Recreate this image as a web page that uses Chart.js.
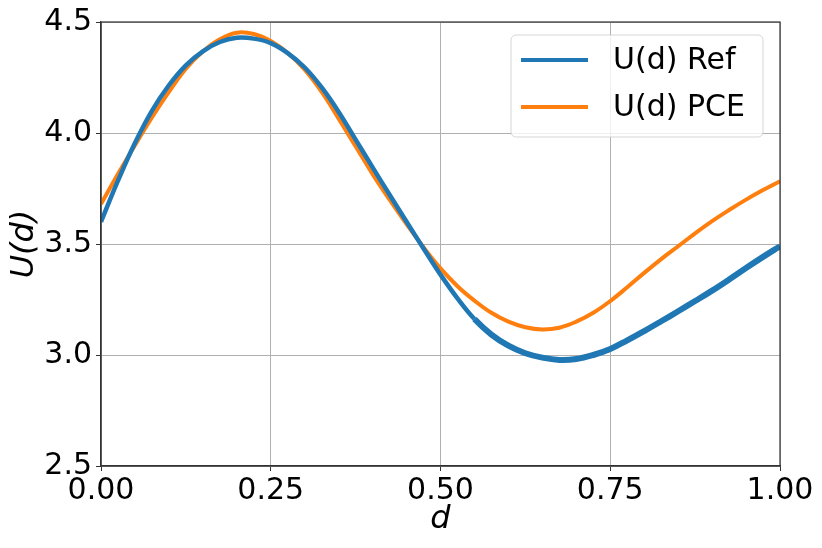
<!DOCTYPE html>
<html>
<head>
<meta charset="utf-8">
<script src="https://cdn.jsdelivr.net/npm/chart.js@4"></script>
<style>
  html, body { margin: 0; padding: 0; background: #fff; }
  #wrap { width: 822px; height: 548px; }
</style>
</head>
<body>
<div id="wrap"><canvas id="c" width="822" height="548"></canvas></div>
<script>
const dValues = [0.000,0.025,0.050,0.075,0.100,0.125,0.150,0.175,0.200,0.225,0.250,0.275,0.300,0.325,0.350,0.375,0.400,0.425,0.450,0.475,0.500,0.525,0.550,0.575,0.600,0.625,0.650,0.675,0.700,0.725,0.750,0.775,0.800,0.825,0.850,0.875,0.900,0.925,0.950,0.975,1.000];
const refValues = [3.60,3.785,3.955,4.10,4.215,4.305,4.368,4.41,4.429,4.425,4.405,4.36,4.295,4.205,4.095,3.97,3.845,3.722,3.60,3.48,3.362,3.255,3.162,3.092,3.042,3.008,2.988,2.978,2.982,3.000,3.027,3.066,3.108,3.152,3.197,3.243,3.29,3.34,3.392,3.442,3.49];
const pceValues = [3.68,3.815,3.945,4.07,4.185,4.29,4.367,4.422,4.452,4.446,4.414,4.36,4.285,4.185,4.065,3.94,3.815,3.70,3.59,3.485,3.39,3.31,3.245,3.19,3.15,3.125,3.115,3.123,3.15,3.19,3.243,3.305,3.37,3.432,3.49,3.548,3.603,3.653,3.70,3.743,3.783];
const xTicks = [0, 0.25, 0.5, 0.75, 1.0];
const yTicks = [2.5, 3.0, 3.5, 4.0, 4.5];
const seriesLabels = ['U(d) Ref', 'U(d) PCE'];
const seriesColors = ['#1f77b4', '#ff7f0e'];

const FONT = "'DejaVu Sans', sans-serif";

const frameAndLegend = {
  id: 'frameAndLegend',
  afterDraw(chart) {
    const ctx = chart.ctx;
    const a = chart.chartArea;
    ctx.save();
    ctx.strokeStyle = '#333';
    ctx.lineWidth = 1.2;
    ctx.strokeRect(a.left, a.top, a.right - a.left, a.bottom - a.top);
    // legend box
    const bx = 511, by = 35, bw = 252, bh = 102, r = 5;
    ctx.beginPath();
    ctx.moveTo(bx + r, by);
    ctx.lineTo(bx + bw - r, by);
    ctx.arcTo(bx + bw, by, bx + bw, by + r, r);
    ctx.lineTo(bx + bw, by + bh - r);
    ctx.arcTo(bx + bw, by + bh, bx + bw - r, by + bh, r);
    ctx.lineTo(bx + r, by + bh);
    ctx.arcTo(bx, by + bh, bx, by + bh - r, r);
    ctx.lineTo(bx, by + r);
    ctx.arcTo(bx, by, bx + r, by, r);
    ctx.closePath();
    ctx.fillStyle = 'rgba(255,255,255,0.8)';
    ctx.fill();
    ctx.strokeStyle = 'rgba(204,204,204,0.8)';
    ctx.lineWidth = 1;
    ctx.stroke();
    const rows = [60, 107];
    chart.data.datasets.forEach((ds, i) => {
      const y = rows[i];
      ctx.beginPath();
      ctx.strokeStyle = ds.borderColor;
      ctx.lineWidth = 4;
      ctx.moveTo(521, y);
      ctx.lineTo(588, y);
      ctx.stroke();
      ctx.fillStyle = '#000';
      ctx.font = '30px ' + FONT;
      ctx.textBaseline = 'middle';
      ctx.textAlign = 'left';
      ctx.fillText(ds.label, 613, y + 1);
    });
    ctx.restore();
  }
};

const mkData = (vals) => dValues.map((d, i) => ({x: d, y: vals[i]}));

new Chart(document.getElementById('c'), {
  type: 'line',
  data: {
    datasets: [
      {
        label: seriesLabels[0],
        data: mkData(refValues),
        borderColor: seriesColors[0],
        borderWidth: 4,
        pointRadius: 0,
        tension: 0.4,
        fill: false,
        segment: {
          borderWidth: (c) => (c.p0.parsed.x >= 0.55 ? 6 : 4.5)
        }
      },
      {
        label: seriesLabels[1],
        data: mkData(pceValues),
        borderColor: seriesColors[1],
        borderWidth: 4,
        pointRadius: 0,
        tension: 0.4,
        fill: false
      }
    ]
  },
  options: {
    responsive: false,
    animation: false,
    devicePixelRatio: 1,
    layout: { padding: { left: 0, right: 42, top: 19, bottom: 0 } },
    plugins: { legend: { display: false }, tooltip: { enabled: false } },
    scales: {
      x: {
        type: 'linear',
        min: 0, max: 1,
        afterBuildTicks: (s) => { s.ticks = xTicks.map(v => ({value: v})); },
        afterFit: (s) => { s.height = 82; },
        grid: { color: '#b0b0b0', lineWidth: 1, tickLength: 5, tickColor: '#333', tickWidth: 1 },
        border: { color: '#333', width: 1.2 },
        ticks: {
          color: '#000',
          font: { family: FONT, size: 30 },
          padding: 2,
          maxRotation: 0,
          callback: (v) => v.toFixed(2)
        },
        title: {
          display: true, text: 'd', color: '#000',
          font: { family: FONT, size: 32, style: 'italic' },
          padding: { top: 0, bottom: 9 }
        }
      },
      y: {
        type: 'linear',
        min: 2.5, max: 4.5,
        afterBuildTicks: (s) => { s.ticks = yTicks.map(v => ({value: v})); },
        afterFit: (s) => { s.width = 101; },
        grid: { color: '#b0b0b0', lineWidth: 1, tickLength: 5, tickColor: '#333', tickWidth: 1 },
        border: { color: '#333', width: 1.2 },
        ticks: {
          color: '#000',
          font: { family: FONT, size: 30 },
          padding: 4,
          callback: (v) => v.toFixed(1)
        },
        title: {
          display: true, text: 'U(d)', color: '#000',
          font: { family: FONT, size: 32, style: 'italic' },
          padding: { top: 5, bottom: 0 }
        }
      }
    }
  },
  plugins: [frameAndLegend]
});
</script>
</body>
</html>
